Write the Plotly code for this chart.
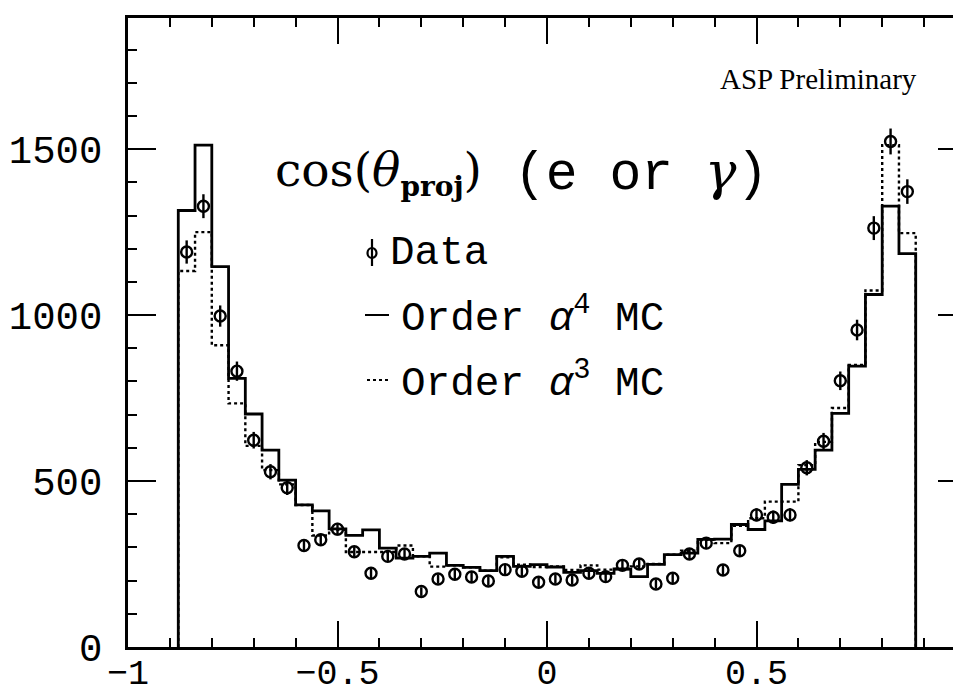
import plotly.graph_objects as go

# ---------------- data ----------------
bin_lo = -0.88
bin_w = 0.04
n_bins = 44

data_vals = [1190, 1328, 997, 831, 623, 528, 480, 306, 323, 355, 287, 222,
             273, 280, 167, 205, 219, 211, 199, 233, 228, 195, 205, 202,
             222, 212, 246, 250, 190, 207, 280, 313, 232, 290, 398, 391,
             398, 540, 620, 802, 955, 1262, 1523, 1372]
data_errs = [35, 36, 32, 29, 25, 23, 22, 17, 18, 19, 17, 15,
             17, 17, 13, 14, 15, 15, 14, 15, 15, 14, 14, 14,
             15, 15, 16, 16, 14, 14, 17, 18, 15, 17, 20, 20,
             20, 23, 25, 28, 31, 36, 39, 37]

mc4_vals = [1315, 1512, 1146, 809, 702, 593, 503, 428, 410, 356, 336, 353,
            298, 268, 273, 283, 246, 240, 230, 273, 243, 248, 241, 225,
            230, 222, 235, 212, 249, 278, 283, 324, 325, 369, 354, 380,
            490, 535, 593, 704, 846, 1062, 1328, 1185]
mc3_vals = [1133, 1250, 909, 734, 606, 533, 490, 428, 336, 353, 286, 286,
            286, 306, 273, 242, 246, 240, 230, 270, 248, 241, 243, 232,
            246, 233, 235, 243, 250, 278, 290, 323, 313, 365, 388, 438,
            438, 548, 618, 720, 850, 1074, 1512, 1247]

x_tickvals = [-1, -0.5, 0, 0.5, 1]
x_ticktext = ["\u22121", "\u22120.5", "0", "0.5", "1"]
y_tickvals = [0, 500, 1000, 1500]
y_ticktext = ["0", "500", "1000", "1500"]

# ---------------- derived ----------------
edges = [round(bin_lo + i * bin_w, 4) for i in range(n_bins + 1)]
centers = [round(bin_lo + (i + 0.5) * bin_w, 4) for i in range(n_bins)]


def step_xy(vals):
    xs = [edges[0]] + edges[:-1] + [edges[-1], edges[-1]]
    ys = [0] + list(vals) + [vals[-1], 0]
    return xs, ys


fig = go.Figure()

x4, y4 = step_xy(mc4_vals)
fig.add_trace(go.Scatter(x=x4, y=y4, mode="lines", line_shape="hv",
                         line=dict(color="black", width=2.8),
                         showlegend=False, hoverinfo="skip"))
x3, y3 = step_xy(mc3_vals)
fig.add_trace(go.Scatter(x=x3, y=y3, mode="lines", line_shape="hv",
                         line=dict(color="black", width=2.4, dash="dot"),
                         showlegend=False, hoverinfo="skip"))
fig.add_trace(go.Scatter(x=centers, y=data_vals, mode="markers",
                         marker=dict(symbol="circle-open", size=11,
                                     color="black", line=dict(width=2.4, color="black")),
                         error_y=dict(type="data", array=data_errs, width=0,
                                      thickness=2.4, color="black"),
                         showlegend=False))
# empty traces so that the top / right tick axes are drawn
fig.add_trace(go.Scatter(x=[None], y=[None], xaxis="x2", yaxis="y",
                         mode="markers", showlegend=False, hoverinfo="skip"))
fig.add_trace(go.Scatter(x=[None], y=[None], xaxis="x", yaxis="y2",
                         mode="markers", showlegend=False, hoverinfo="skip"))

W, H = 961, 695
L, R, T, B = 120, 3, 10, 56
pw, ph = W - L - R, H - T - B


def px(xp):
    return (xp - L) / pw


def py(yp):
    return (H - B - yp) / ph


mono = "Liberation Mono"
serif = "DejaVu Serif"
annots = [
    dict(text="ASP Preliminary", x=px(910), y=py(71), xanchor="right", yanchor="middle",
         font=dict(family="Liberation Serif", size=29, color="black")),
    dict(text="cos(<i>θ</i><sub><b><span style=\"font-size:28px\">proj</span></b></sub>)",
         x=px(266), y=py(165), xanchor="left", yanchor="middle",
         font=dict(family=serif, size=47, color="black")),
    dict(text="(e or <i><span style=\"font-family:DejaVu Serif\">γ</span></i>)",
         x=px(505), y=py(165), xanchor="left", yanchor="middle",
         font=dict(family=mono, size=53, color="black")),
    dict(text="Data", x=px(381), y=py(245), xanchor="left", yanchor="middle",
         font=dict(family=mono, size=41, color="black")),
    dict(text="Order <i>α</i><sup>4</sup> MC", x=px(392), y=py(307), xanchor="left",
         yanchor="middle", font=dict(family=mono, size=41, color="black")),
    dict(text="Order <i>α</i><sup>3</sup> MC", x=px(392), y=py(372), xanchor="left",
         yanchor="middle", font=dict(family=mono, size=41, color="black")),
]
for a in annots:
    a.update(xref="paper", yref="paper", showarrow=False, borderpad=0)

shapes = [
    # legend: data symbol
    dict(type="circle", xref="paper", yref="paper",
         x0=px(359.5), x1=px(368.5), y0=py(250), y1=py(240),
         line=dict(color="black", width=2.2)),
    dict(type="line", xref="paper", yref="paper",
         x0=px(364), x1=px(364), y0=py(258), y1=py(231),
         line=dict(color="black", width=2.2)),
    # legend: solid line
    dict(type="line", xref="paper", yref="paper",
         x0=px(357), x1=px(381), y0=py(307), y1=py(307),
         line=dict(color="black", width=2)),
    # legend: dotted line
    dict(type="line", xref="paper", yref="paper",
         x0=px(359), x1=px(381), y0=py(372), y1=py(372),
         line=dict(color="black", width=2, dash="dot")),
]

tickfont_x = dict(family=mono, size=35, color="black")
tickfont_y = dict(family=mono, size=39, color="black")
common_x = dict(range=[-1, 1], tickvals=x_tickvals, automargin=False,
                ticks="inside", ticklen=26, tickwidth=2, tickcolor="black",
                showline=True, linewidth=2.6, linecolor="black",
                showgrid=False, zeroline=False,
                minor=dict(dtick=0.1, tick0=0, ticks="inside", ticklen=9,
                           tickwidth=2, tickcolor="black", showgrid=False))
common_y = dict(range=[0, 1895], tickvals=y_tickvals, automargin=False,
                ticks="inside", ticklen=28, tickwidth=2, tickcolor="black",
                showline=True, linewidth=2.6, linecolor="black",
                showgrid=False, zeroline=False,
                minor=dict(dtick=100, tick0=0, ticks="inside", ticklen=9,
                           tickwidth=2, tickcolor="black", showgrid=False))

fig.update_layout(
    width=W, height=H,
    margin=dict(l=L, r=R, t=T, b=B, pad=0, autoexpand=False),
    paper_bgcolor="white", plot_bgcolor="white",
    annotations=annots, shapes=shapes,
    showlegend=False,
    xaxis=dict(**common_x, ticktext=x_ticktext, tickfont=tickfont_x,
               ticklabelstandoff=-8, mirror=True),
    yaxis=dict(**common_y, ticktext=y_ticktext, tickfont=tickfont_y,
               ticklabelstandoff=15, mirror=True),
    xaxis2=dict(**common_x, overlaying="x", side="top", anchor="y",
                showticklabels=False),
    yaxis2=dict(**common_y, overlaying="y", side="right", anchor="x",
                showticklabels=False),
)

fig.write_html("out.html")
